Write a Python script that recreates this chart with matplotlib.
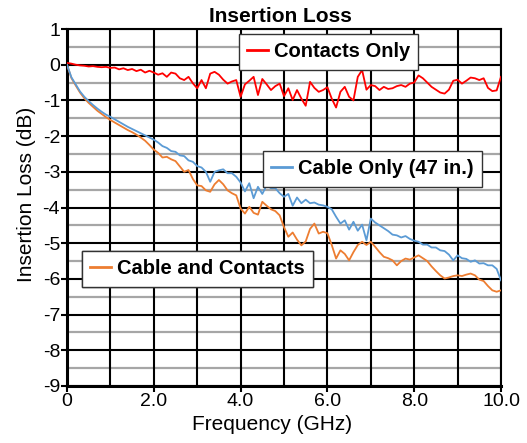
import numpy as np
import matplotlib.pyplot as plt
from matplotlib.lines import Line2D

plt.rcParams['font.family'] = ['Liberation Sans', 'DejaVu Sans']
plt.rcParams['axes.unicode_minus'] = False

# Frequency grid (GHz)
freq = np.arange(0, 101) / 10.0

# Contacts only (dB)
contacts = [0.05, 0.03, 0.0, -0.02, -0.03, -0.05, -0.04, -0.06, -0.07, -0.06,
            -0.09, -0.08, -0.13, -0.10, -0.15, -0.12, -0.18, -0.14, -0.22, -0.17,
            -0.22, -0.28, -0.24, -0.34, -0.22, -0.25, -0.38, -0.43, -0.34, -0.52,
            -0.66, -0.43, -0.66, -0.25, -0.20, -0.28, -0.42, -0.53, -0.47, -0.43,
            -0.90, -0.55, -0.45, -0.34, -0.85, -0.40, -0.55, -0.71, -0.60, -0.53,
            -0.88, -0.66, -0.99, -0.71, -0.95, -1.15, -0.48, -0.65, -0.76, -0.71,
            -0.63, -0.95, -1.20, -0.76, -0.62, -0.90, -1.00, -0.34, -0.15, -0.70,
            -0.57, -0.60, -0.71, -0.62, -0.68, -0.66, -0.60, -0.57, -0.62, -0.53,
            -0.50, -0.30, -0.38, -0.50, -0.62, -0.70, -0.78, -0.81, -0.70, -0.45,
            -0.42, -0.53, -0.45, -0.36, -0.38, -0.43, -0.38, -0.65, -0.74, -0.72,
            -0.34]

# Cable only, 47 in. (dB)
cable = [0.0, -0.35, -0.55, -0.75, -0.90, -1.02, -1.13, -1.23, -1.32, -1.40,
         -1.46, -1.53, -1.60, -1.67, -1.74, -1.80, -1.86, -1.92, -1.98, -2.04,
         -2.10, -2.18, -2.28, -2.33, -2.42, -2.44, -2.54, -2.56, -2.68, -2.72,
         -2.84, -2.88, -3.00, -3.28, -3.00, -2.96, -2.93, -3.04, -3.04, -3.14,
         -3.30, -3.55, -3.32, -3.74, -3.42, -3.62, -3.38, -3.46, -3.46, -3.60,
         -3.70, -3.62, -3.95, -3.72, -3.88, -3.78, -3.88, -3.86, -3.92, -3.94,
         -3.98, -4.05, -4.26, -4.45, -4.36, -4.62, -4.40, -4.65, -4.48, -4.92,
         -4.31, -4.42, -4.50, -4.58, -4.66, -4.76, -4.78, -4.84, -4.80, -4.88,
         -4.93, -4.96, -5.04, -5.04, -5.12, -5.12, -5.20, -5.22, -5.32, -5.48,
         -5.34, -5.42, -5.44, -5.52, -5.48, -5.57, -5.56, -5.62, -5.62, -5.72,
         -6.04]

# Cable and contacts (dB)
cable_contacts = [0.0, -0.37, -0.58, -0.78, -0.94, -1.07, -1.18, -1.29, -1.38, -1.47,
                  -1.55, -1.62, -1.69, -1.76, -1.83, -1.89, -1.96, -2.04, -2.13, -2.25,
                  -2.38, -2.47, -2.60, -2.58, -2.65, -2.70, -2.85, -3.00, -2.95, -3.20,
                  -3.38, -3.40, -3.52, -3.56, -3.35, -3.23, -3.35, -3.52, -3.60, -3.66,
                  -4.03, -4.17, -3.98, -4.15, -4.20, -3.84, -3.95, -4.05, -4.10, -4.22,
                  -4.55, -4.82, -4.70, -4.90, -5.06, -4.95, -4.60, -4.45, -4.73, -4.68,
                  -4.72, -5.05, -5.43, -5.20, -5.30, -5.48, -5.25, -5.05, -4.96, -5.05,
                  -4.96, -5.10, -5.25, -5.38, -5.42, -5.48, -5.62, -5.50, -5.43, -5.46,
                  -5.40, -5.34, -5.42, -5.50, -5.65, -5.78, -5.90, -5.99, -5.96, -5.92,
                  -5.90, -5.92, -5.88, -5.85, -5.90, -6.02, -6.06, -6.20, -6.32, -6.36,
                  -6.32]

x_ticks = [0, 2, 4, 6, 8, 10]
x_tick_labels = ['0', '2.0', '4.0', '6.0', '8.0', '10.0']
y_ticks = list(range(-9, 2))

red = '#FF0000'
blue = '#5B9BD5'
orange = '#ED7D31'

fig = plt.figure(figsize=(5.27, 4.43), dpi=100)
ax = fig.add_axes([67 / 527, 1 - 386 / 443, 434 / 527, 357 / 443])

# grid: gray half-dB lines, black major lines
for y in np.arange(-8.5, 1, 1.0):
    ax.axhline(y, color='#A6A6A6', lw=1.6, zorder=1)
for y in y_ticks:
    ax.axhline(y, color='black', lw=1.5, zorder=1)
for x in range(0, 11):
    ax.axvline(x, color='black', lw=1.5, zorder=1)

ax.plot(freq, cable_contacts, color=orange, lw=1.3, zorder=3)
ax.plot(freq, cable, color=blue, lw=1.3, zorder=3)
ax.plot(freq, contacts, color=red, lw=1.3, zorder=4)

ax.set_xlim(0, 10)
ax.set_ylim(-9, 1)
ax.set_xticks(x_ticks)
ax.set_xticklabels(x_tick_labels)
ax.set_yticks(y_ticks)
ax.tick_params(axis='both', labelsize=14, length=4, width=1.5, color='black', pad=1)
for s in ax.spines.values():
    s.set_linewidth(1.5)
    s.set_color('black')
ax.spines['left'].set_linewidth(2.2)
ax.spines['bottom'].set_linewidth(2.2)

fig.text(280 / 527, 1 - 17 / 443, 'Insertion Loss', ha='center', va='center',
         fontsize=15, fontweight='bold')
fig.text(272 / 527, 1 - 425 / 443, 'Frequency (GHz)', ha='center', va='center', fontsize=15)
fig.text(27 / 527, 1 - 194 / 443, 'Insertion Loss (dB)', ha='center', va='center',
         fontsize=15, rotation=90)


def add_box(label, color, left, top):
    h = Line2D([], [], color=color, lw=2)
    leg = ax.legend([h], [label], loc='upper left', bbox_to_anchor=(left / 527, 1 - top / 443),
                    bbox_transform=fig.transFigure, borderaxespad=0, fancybox=False,
                    framealpha=1, edgecolor='#333333', handlelength=1.0, handletextpad=0.3,
                    borderpad=0.42, prop={'size': 14.5, 'weight': 'bold'})
    leg.get_frame().set_linewidth(1.0)
    leg.set_zorder(10)
    ax.add_artist(leg)


add_box('Contacts Only', red, 239, 34)
add_box('Cable Only (47 in.)', blue, 263, 151)
add_box('Cable and Contacts', orange, 82, 251)

fig.savefig('out.png', dpi=100)
